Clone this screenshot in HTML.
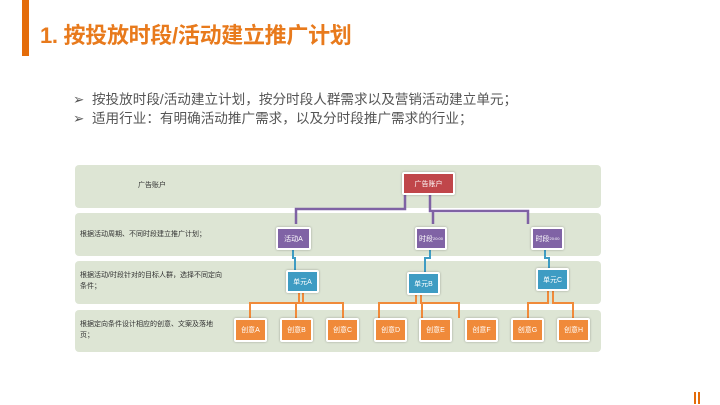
<!DOCTYPE html>
<html><head><meta charset="utf-8"><style>
body{margin:0;width:720px;height:405px;background:#fff;position:relative;overflow:hidden;font-family:"Liberation Sans","Noto Sans CJK SC",sans-serif}
.a{position:absolute}
.band{position:absolute;left:75px;width:526px;background:#dde5d4;border-radius:4px}
.lbl{position:absolute;font-size:7px;color:#333;line-height:11px}
.n{position:absolute;color:#fff;font-size:7px;display:flex;align-items:center;justify-content:center;border:2px solid #fff;box-sizing:border-box;border-radius:2px;box-shadow:0 0 2px rgba(0,0,0,.3)}
.p{background:#8063a5}.b{background:#3e9cc3}.o{background:#f08a3a}.r{background:#c0464a}
</style></head><body>
<div class="a" style="left:22px;top:0;width:7px;height:56px;background:#e46c0a"></div>
<div class="a" style="left:40px;top:18px;font-size:22px;font-weight:bold;color:#e87a1c;letter-spacing:-0.3px">1. 按投放时段/活动建立推广计划</div>
<div class="a" style="left:73px;top:90px;font-size:13.6px;color:#555;line-height:19px">➢ &nbsp;按投放时段/活动建立计划，按分时段人群需求以及营销活动建立单元；<br>➢ &nbsp;适用行业：有明确活动推广需求，以及分时段推广需求的行业；</div>
<div class="band" style="top:165px;height:43px"></div>
<div class="band" style="top:213px;height:43px"></div>
<div class="band" style="top:261px;height:43px"></div>
<div class="band" style="top:310px;height:42px"></div>
<div class="lbl" style="left:138px;top:180px">广告账户</div>
<div class="lbl" style="left:80px;top:229px">根据活动周期、不同时段建立推广计划；</div>
<div class="lbl" style="left:80px;top:270px;width:145px">根据活动/时段针对的目标人群，选择不同定向条件；</div>
<div class="lbl" style="left:80px;top:319px;width:145px">根据定向条件设计相应的创意、文案及落地页；</div>
<svg class="a" style="left:0;top:0" width="720" height="405">
<g fill="none" stroke="#7f62a4" stroke-width="2.5">
<path d="M405 195V209H296V224M430 195V211H528V224M433 211V224"/>
</g>
<g fill="none" stroke="#3e9cc3" stroke-width="2">
<path d="M293 250V258H295V270M430 250V258H425V272M545 250V258H549V269"/>
</g>
<g fill="none" stroke="#f08a3a" stroke-width="2">
<path d="M299 293V303H250V318M303 293V303H343V318M303 303H296V318M416 295V303H379V318M421 295V303H459V318M421 303H422V318M548 291V303H528V318M553 291V303H573V318"/>
</g>
</svg>
<div class="n r" style="left:402px;top:172px;width:53px;height:23px">广告账户</div>
<div class="n p" style="left:276px;top:227px;width:35px;height:23px">活动A</div>
<div class="n p" style="left:415px;top:227px;width:32px;height:23px">时段<span style="font-size:4px">20:00</span></div>
<div class="n p" style="left:531px;top:227px;width:33px;height:23px">时段<span style="font-size:4px">20:00</span></div>
<div class="n b" style="left:286px;top:270px;width:33px;height:23px">单元A</div>
<div class="n b" style="left:407px;top:272px;width:33px;height:23px">单元B</div>
<div class="n b" style="left:536px;top:268px;width:33px;height:23px">单元C</div>
<div class="n o" style="left:234px;top:318px;width:33px;height:24px">创意A</div>
<div class="n o" style="left:280px;top:318px;width:33px;height:24px">创意B</div>
<div class="n o" style="left:326px;top:318px;width:33px;height:24px">创意C</div>
<div class="n o" style="left:374px;top:318px;width:33px;height:24px">创意D</div>
<div class="n o" style="left:419px;top:318px;width:33px;height:24px">创意E</div>
<div class="n o" style="left:465px;top:318px;width:33px;height:24px">创意F</div>
<div class="n o" style="left:511px;top:318px;width:33px;height:24px">创意G</div>
<div class="n o" style="left:557px;top:318px;width:33px;height:24px">创意H</div>
<div class="a" style="left:694px;top:392px;width:2px;height:12px;background:#e46c0a"></div>
<div class="a" style="left:698px;top:392px;width:2px;height:12px;background:#e46c0a"></div>
</body></html>
